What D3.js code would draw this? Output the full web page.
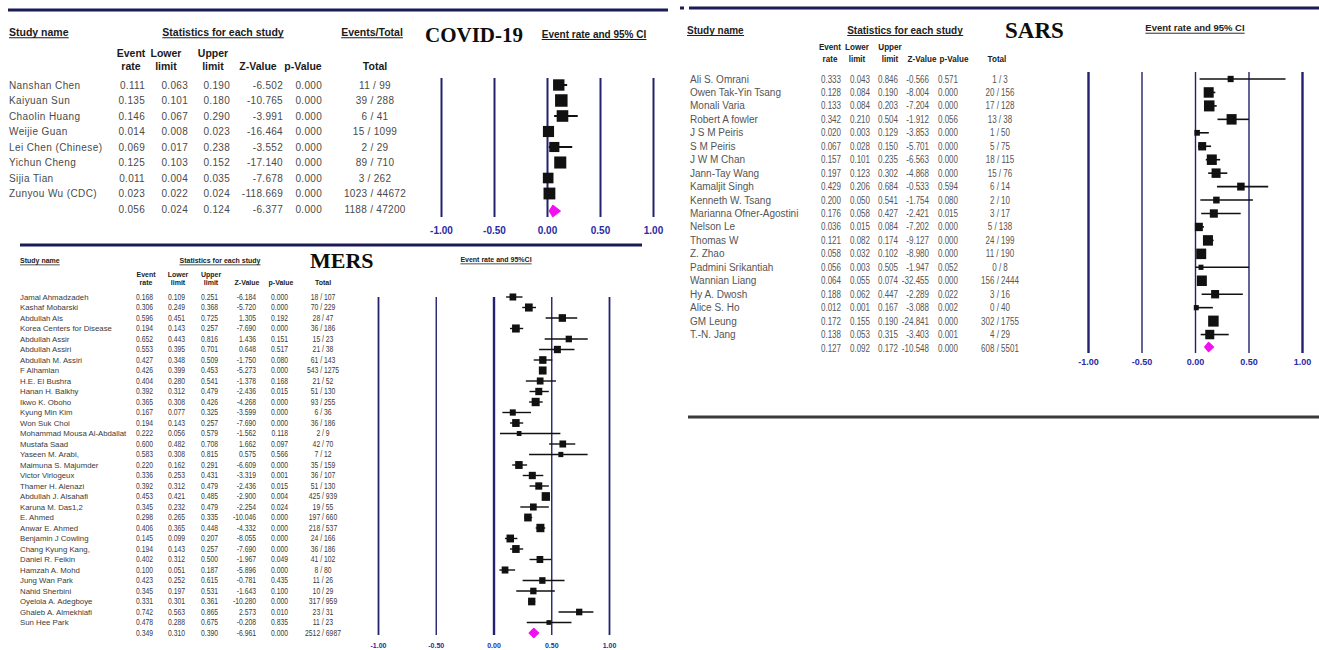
<!DOCTYPE html>
<html><head><meta charset="utf-8">
<script src="https://cdn.jsdelivr.net/npm/d3@7"></script>
<style>
html,body{margin:0;padding:0;background:#fff;}
svg{display:block;}
</style></head><body>
<svg id="chart" width="1319" height="650"></svg>
<script>
// ================= DATA =================
const xTicks = [-1, -0.5, 0, 0.5, 1];
const colHeadTop = ["Event", "Lower", "Upper", "", "", ""];
const colHeadBottom = ["rate", "limit", "limit", "Z-Value", "p-Value", "Total"];

// ---- COVID-19 ----
const covidNames = ["Nanshan Chen","Kaiyuan Sun","Chaolin Huang","Weijie Guan","Lei Chen (Chinese)","Yichun Cheng","Sijia Tian","Zunyou Wu (CDC)"];
const covidRate  = [0.111,0.135,0.146,0.014,0.069,0.125,0.011,0.023];
const covidLower = [0.063,0.101,0.067,0.008,0.017,0.103,0.004,0.022];
const covidUpper = [0.190,0.180,0.290,0.023,0.238,0.152,0.035,0.024];
const covidZ     = [-6.502,-10.765,-3.991,-16.464,-3.552,-17.140,-7.678,-118.669];
const covidP     = [0.000,0.000,0.000,0.000,0.000,0.000,0.000,0.000];
const covidEvents= [11,39,6,15,2,89,3,1023];
const covidTotals= [99,288,41,1099,29,710,262,44672];
const covidWeight= [12.0,14.5,12.5,11.5,9.5,13.5,10.5,13.0];
const covidSummary = [0.056,0.024,0.124,-6.377,0.000];
const covidSumEvents = 1188, covidSumTotal = 47200;

// ---- SARS ----
const sarsNames = ["Ali S. Omrani","Owen Tak-Yin Tsang","Monali Varia","Robert A fowler","J S M Peiris","S M Peiris","J W M Chan","Jann-Tay Wang","Kamaljit Singh","Kenneth W. Tsang","Marianna Ofner-Agostini","Nelson Le","Thomas W","Z. Zhao","Padmini Srikantiah","Wannian Liang","Hy A. Dwosh","Alice S. Ho","GM Leung","T.-N. Jang"];
const sarsRate  = [0.333,0.128,0.133,0.342,0.020,0.067,0.157,0.197,0.429,0.200,0.176,0.036,0.121,0.058,0.056,0.064,0.188,0.012,0.172,0.138];
const sarsLower = [0.043,0.084,0.084,0.210,0.003,0.028,0.101,0.123,0.206,0.050,0.058,0.015,0.082,0.032,0.003,0.055,0.062,0.001,0.155,0.053];
const sarsUpper = [0.846,0.190,0.203,0.504,0.129,0.150,0.235,0.302,0.684,0.541,0.427,0.084,0.174,0.102,0.505,0.074,0.447,0.167,0.190,0.315];
const sarsZ     = [-0.566,-8.004,-7.204,-1.912,-3.853,-5.701,-6.563,-4.868,-0.533,-1.754,-2.421,-7.202,-9.127,-8.980,-1.947,-32.455,-2.289,-3.088,-24.841,-3.403];
const sarsP     = [0.571,0.000,0.000,0.056,0.000,0.000,0.000,0.000,0.594,0.080,0.015,0.000,0.000,0.000,0.052,0.000,0.022,0.002,0.000,0.001];
const sarsEvents= [1,20,17,13,1,5,18,15,6,2,3,5,24,11,0,156,3,0,302,4];
const sarsTotals= [3,156,128,38,50,75,115,76,14,10,17,138,199,190,8,2444,16,40,1755,29];
const sarsWeight= [2.5,6.9,7.6,6.9,2.1,4.4,6.9,5.6,3.9,2.9,4.4,4.4,6.9,6.9,1.7,6.9,4.4,1.7,7.6,5.6];
const sarsSummary = [0.127,0.092,0.172,-10.548,0.000];
const sarsSumEvents = 608, sarsSumTotal = 5501;

// ---- MERS ----
const mersNames = ["Jamal Ahmadzadeh","Kashaf Mobarski","Abdullah Als","Korea Centers for Disease","Abdullah Assir","Abdullah Assiri","Abdullah M. Assiri","F Alhamlan","H.E. El Bushra","Hanan H. Balkhy","Ikwo K. Oboho","Kyung Min Kim","Won Suk Choi","Mohammad Mousa Al-Abdallat","Mustafa Saad","Yaseen M. Arabi,","Maimuna S. Majumder","Victor Virlogeux","Thamer H. Alenazi","Abdullah J. Alsahafi","Karuna M. Das1,2","E. Ahmed","Anwar E. Ahmed","Benjamin J Cowling","Chang Kyung Kang,","Daniel R. Feikin","Hamzah A. Mohd","Jung Wan Park","Nahid Sherbini","Oyelola A. Adegboye","Ghaleb A. Almekhlafi","Sun Hee Park"];
const mersRate  = [0.168,0.306,0.596,0.194,0.652,0.553,0.427,0.426,0.404,0.392,0.365,0.167,0.194,0.222,0.600,0.583,0.220,0.336,0.392,0.453,0.345,0.298,0.406,0.145,0.194,0.402,0.100,0.423,0.345,0.331,0.742,0.478];
const mersLower = [0.109,0.249,0.451,0.143,0.443,0.395,0.348,0.399,0.280,0.312,0.308,0.077,0.143,0.056,0.482,0.308,0.162,0.253,0.312,0.421,0.232,0.265,0.365,0.099,0.143,0.312,0.051,0.252,0.197,0.301,0.563,0.288];
const mersUpper = [0.251,0.368,0.725,0.257,0.816,0.701,0.509,0.453,0.541,0.479,0.426,0.325,0.257,0.579,0.708,0.815,0.291,0.431,0.479,0.485,0.479,0.335,0.448,0.207,0.257,0.500,0.187,0.615,0.531,0.361,0.865,0.675];
const mersZ     = [-6.184,-5.720,1.305,-7.690,1.436,0.648,-1.750,-5.273,-1.378,-2.436,-4.268,-3.599,-7.690,-1.562,1.662,0.575,-6.609,-3.319,-2.436,-2.900,-2.254,-10.046,-4.332,-8.055,-7.690,-1.967,-5.896,-0.781,-1.643,-10.280,2.573,-0.208];
const mersP     = [0.000,0.000,0.192,0.000,0.151,0.517,0.080,0.000,0.168,0.015,0.000,0.000,0.000,0.118,0.097,0.566,0.000,0.001,0.015,0.004,0.024,0.000,0.000,0.000,0.000,0.049,0.000,0.435,0.100,0.000,0.010,0.835];
const mersEvents= [18,70,28,36,15,21,61,543,21,51,93,6,36,2,42,7,35,36,51,425,19,197,218,24,36,41,8,11,10,317,23,11];
const mersTotals= [107,229,47,186,23,38,143,1275,52,130,255,36,186,9,70,12,159,107,130,939,55,660,537,166,186,102,80,26,29,959,31,23];
const mersWeight= [2.91,3.84,3.45,3.84,2.57,3.17,3.45,3.84,2.91,3.17,4.15,2.33,3.65,1.43,2.91,1.62,3.65,3.17,3.17,4.46,2.91,3.65,4.15,3.65,3.65,2.91,2.91,2.57,2.57,3.45,2.57,1.31];
const mersSummary = [0.349,0.310,0.390,-6.961,0.000];
const mersSumEvents = 2512, mersSumTotal = 6987;

// ================= RENDER =================
const svg = d3.select("#chart");
const NAVY = "#1b1b58", GRID = "#222270", TICK = "#2a2aa6", MAG = "#f010f0", INK = "#111";
const ARIAL = "Arial, 'Liberation Sans', sans-serif";
const SERIF = "'Times New Roman', 'Liberation Serif', serif";
const f3 = v => v.toFixed(3);

function styleText(sel, f) {
  sel.style("font-family", f.family).style("font-size", f.size + "px")
     .style("font-weight", f.weight || "normal").style("letter-spacing", (f.ls || 0) + "px")
     .attr("fill", f.fill || INK);
  if (f.squeeze) {
    sel.each(function () {
      const L = this.getComputedTextLength();
      if (L > 0) d3.select(this).attr("textLength", L * f.squeeze).attr("lengthAdjust", "spacingAndGlyphs");
    });
  }
  return sel;
}
function underlined(g, x, y, txt, anchor, f) {
  const t = styleText(g.append("text").attr("x", x).attr("y", y).attr("dy", "0.35em")
    .attr("text-anchor", anchor).text(txt), f);
  const bb = t.node().getBBox();
  g.append("line").attr("x1", bb.x).attr("x2", bb.x + bb.width)
    .attr("y1", y + f.size * 0.55).attr("y2", y + f.size * 0.55)
    .attr("stroke", f.fill || INK).attr("stroke-width", Math.max(0.8, f.size / 10));
}

function drawPanel(c) {
  const g = svg.append("g");
  const n = c.names.length;
  const idx = d3.range(n + 1);
  const y = d3.scalePoint().domain(idx).range(c.rowRange);
  const x = d3.scaleLinear().domain([-1, 1]).range(c.xRange);
  const side = d3.scaleSqrt().domain([0, d3.max(c.weight)]).range([0, c.maxSide]);

  // headers
  underlined(g, c.studyX, c.topHeadY, "Study name", "start", c.headFont);
  underlined(g, c.statsX, c.topHeadY, "Statistics for each study", "middle", c.headFont);
  if (c.eventsTotalX) underlined(g, c.eventsTotalX, c.topHeadY, "Events/Total", "middle", c.headFont);
  underlined(g, c.ciTitleX, c.ciTitleY, c.ciTitle, "middle", c.ciFont);
  styleText(g.append("text").attr("x", c.titleX).attr("y", c.titleY).text(c.title),
    {family: SERIF, size: c.titleSize, weight: "bold", fill: "#0d0d0d"});

  colHeadTop.forEach((t, i) => {
    if (t) styleText(g.append("text").attr("x", c.colHeadX[i]).attr("y", c.colHead1Y).attr("dy", "0.35em")
      .attr("text-anchor", "middle").text(t), c.colFont);
    styleText(g.append("text").attr("x", c.colHeadX[i]).attr("y", c.colHead2Y).attr("dy", "0.35em")
      .attr("text-anchor", "middle").text(colHeadBottom[i]), c.colFont);
  });

  // table rows
  const rows = idx.map(i => i < n
    ? {i, name: c.names[i], v: [c.rate[i], c.lower[i], c.upper[i], c.z[i], c.p[i]], tot: c.events[i] + " / " + c.totals[i]}
    : {i, name: "", v: c.summary, tot: c.sumEvents + " / " + c.sumTotal});
  const rg = g.selectAll("g.row").data(rows).join("g").attr("class", "row")
    .attr("transform", d => `translate(0,${y(d.i)})`);
  styleText(rg.append("text").attr("x", c.nameX).attr("dy", "0.35em").text(d => d.name), c.nameFont);
  for (let k = 0; k < 5; k++) {
    styleText(rg.append("text").attr("x", c.numAnchor[k]).attr("dy", "0.35em").attr("text-anchor", "end")
      .text(d => f3(d.v[k])), c.numFont);
  }
  styleText(rg.append("text").attr("x", c.totalX).attr("dy", "0.35em").attr("text-anchor", "middle")
    .text(d => d.tot), c.numFont);

  // grid axis
  const axis = d3.axisBottom(x).tickValues(xTicks).tickSizeInner(-(c.gridBottom - c.gridTop))
    .tickSizeOuter(0).tickFormat(d => d.toFixed(2));
  const ag = g.append("g").attr("transform", `translate(0,${c.gridBottom})`).call(axis);
  ag.select(".domain").remove();
  ag.selectAll(".tick line").attr("stroke", GRID).attr("stroke-width", (d, i) => c.gridWidths[i]);
  styleText(ag.selectAll(".tick text").attr("y", c.tickY - c.gridBottom).attr("dy", "0.35em"),
    {family: ARIAL, size: c.tickSize, weight: "bold", fill: TICK});

  // CI lines and squares
  const studies = d3.range(n);
  g.selectAll("line.ci").data(studies).join("line").attr("class", "ci")
    .attr("x1", i => x(c.lower[i])).attr("x2", i => x(c.upper[i]))
    .attr("y1", i => y(i)).attr("y2", i => y(i))
    .attr("stroke", INK).attr("stroke-width", c.ciWidth);
  g.selectAll("rect.sq").data(studies).join("rect").attr("class", "sq")
    .attr("x", i => x(c.rate[i]) - side(c.weight[i]) / 2)
    .attr("y", i => y(i) - side(c.weight[i]) * c.sqAspect / 2)
    .attr("width", i => side(c.weight[i]))
    .attr("height", i => side(c.weight[i]) * c.sqAspect)
    .attr("fill", INK);

  // summary diamond
  const sy = y(n) + c.diamondDy, h = c.diamondH / 2;
  const [sr, sl, su] = c.summary;
  g.append("path")
    .attr("d", d3.line()([[x(sl), sy], [x(sr), sy - h], [x(su), sy], [x(sr), sy + h]]) + "Z")
    .attr("fill", MAG).attr("stroke", MAG).attr("stroke-width", 1.5).attr("stroke-linejoin", "round");
}

// panel rules
const rules = [
  {x1: 8, x2: 668, y: 10, c: NAVY},
  {x1: 680, x2: 684, y: 8, c: NAVY},
  {x1: 689, x2: 1319, y: 8, c: NAVY},
  {x1: 20, x2: 642, y: 245, c: NAVY},
  {x1: 688, x2: 1319, y: 417, c: "#3b3b3b"}
];
svg.selectAll("line.rule").data(rules).join("line").attr("class", "rule")
  .attr("x1", d => d.x1).attr("x2", d => d.x2).attr("y1", d => d.y).attr("y2", d => d.y)
  .attr("stroke", d => d.c).attr("stroke-width", 3);

drawPanel({
  names: covidNames, rate: covidRate, lower: covidLower, upper: covidUpper, z: covidZ, p: covidP,
  events: covidEvents, totals: covidTotals, weight: covidWeight, summary: covidSummary,
  sumEvents: covidSumEvents, sumTotal: covidSumTotal,
  title: "COVID-19", titleX: 425, titleY: 42, titleSize: 21,
  studyX: 9, statsX: 223, eventsTotalX: 372, topHeadY: 32,
  ciTitle: "Event rate and 95% CI", ciTitleX: 594, ciTitleY: 34,
  colHeadX: [131, 166, 213, 258, 303, 375], colHead1Y: 53, colHead2Y: 66,
  nameX: 9, rowRange: [85, 209], numAnchor: [145, 188, 230, 283, 322], totalX: 375,
  xRange: [441, 653], gridTop: 78, gridBottom: 217, tickY: 230, tickSize: 10,
  gridWidths: [2, 2, 2, 2, 2], maxSide: 12.5, sqAspect: 1, ciWidth: 2, diamondH: 11, diamondDy: 2,
  headFont: {family: ARIAL, size: 10.5, weight: "bold", fill: "#1a1a1a"},
  colFont: {family: ARIAL, size: 10.5, weight: "bold", fill: "#1a1a1a"},
  ciFont: {family: ARIAL, size: 10, weight: "bold", fill: "#1a1a1a"},
  nameFont: {family: ARIAL, size: 10, ls: 0.4, fill: "#4a4a4a"},
  numFont: {family: ARIAL, size: 10, ls: 0.3, fill: "#4a4a4a"}
});

drawPanel({
  names: sarsNames, rate: sarsRate, lower: sarsLower, upper: sarsUpper, z: sarsZ, p: sarsP,
  events: sarsEvents, totals: sarsTotals, weight: sarsWeight, summary: sarsSummary,
  sumEvents: sarsSumEvents, sumTotal: sarsSumTotal,
  title: "SARS", titleX: 1005, titleY: 38, titleSize: 23,
  studyX: 687, statsX: 905, eventsTotalX: null, topHeadY: 30,
  ciTitle: "Event rate and 95% CI", ciTitleX: 1195, ciTitleY: 28,
  colHeadX: [830, 857, 890, 922, 954, 997], colHead1Y: 47, colHead2Y: 59,
  nameX: 690, rowRange: [79, 348], numAnchor: [841, 870, 898, 929, 958], totalX: 1000,
  xRange: [1088, 1302], gridTop: 72, gridBottom: 353, tickY: 362, tickSize: 9,
  gridWidths: [2.4, 1.4, 1.4, 1.4, 2.4], maxSide: 10.5, sqAspect: 1.05, ciWidth: 1.6, diamondH: 9, diamondDy: -1,
  headFont: {family: ARIAL, size: 10, weight: "bold", fill: "#222"},
  colFont: {family: ARIAL, size: 9, weight: "bold", fill: "#222", squeeze: 0.9},
  ciFont: {family: ARIAL, size: 9.5, weight: "bold", fill: "#222"},
  nameFont: {family: ARIAL, size: 10, fill: "#555"},
  numFont: {family: ARIAL, size: 10, fill: "#555", squeeze: 0.8}
});

drawPanel({
  names: mersNames, rate: mersRate, lower: mersLower, upper: mersUpper, z: mersZ, p: mersP,
  events: mersEvents, totals: mersTotals, weight: mersWeight, summary: mersSummary,
  sumEvents: mersSumEvents, sumTotal: mersSumTotal,
  title: "MERS", titleX: 310, titleY: 268, titleSize: 22,
  studyX: 20, statsX: 220, eventsTotalX: null, topHeadY: 261,
  ciTitle: "Event rate and 95%CI", ciTitleX: 496, ciTitleY: 260,
  colHeadX: [146, 178, 211, 247, 281, 323], colHead1Y: 275, colHead2Y: 283,
  nameX: 20, rowRange: [297, 633], numAnchor: [153, 185, 218, 256, 288], totalX: 323,
  xRange: [378, 609], gridTop: 297, gridBottom: 635, tickY: 646, tickSize: 7,
  gridWidths: [1.8, 1.4, 2.4, 1.4, 1.8], maxSide: 8.3, sqAspect: 1.05, ciWidth: 1.4, diamondH: 9, diamondDy: 0,
  headFont: {family: ARIAL, size: 7, weight: "bold", fill: "#222"},
  colFont: {family: ARIAL, size: 7, weight: "bold", fill: "#222"},
  ciFont: {family: ARIAL, size: 7, weight: "bold", fill: "#222"},
  nameFont: {family: ARIAL, size: 7.8, fill: "#3a3a3a"},
  numFont: {family: ARIAL, size: 8.5, fill: "#3a3a3a", squeeze: 0.8}
});
</script>
</body></html>
